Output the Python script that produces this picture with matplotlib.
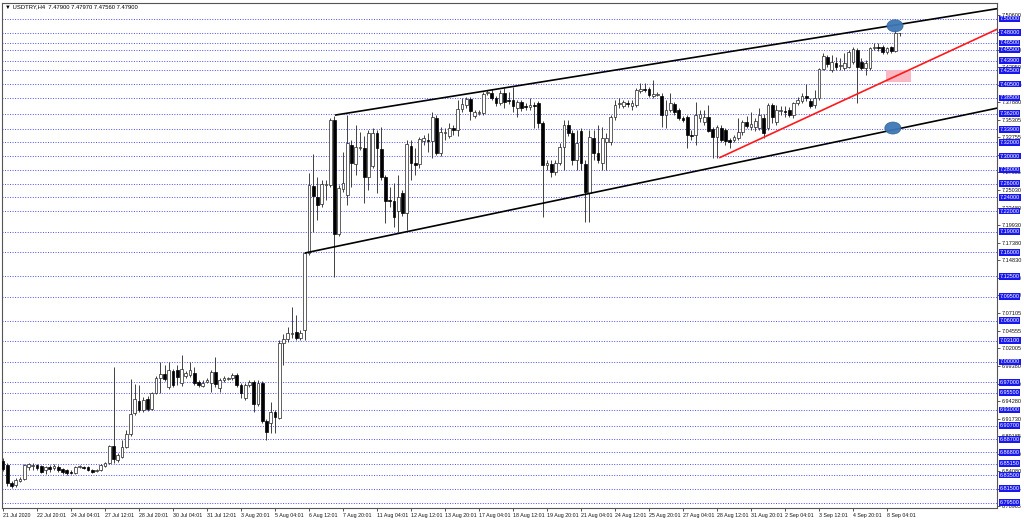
import matplotlib
matplotlib.use("Agg")
import matplotlib.pyplot as plt
from matplotlib.patches import Ellipse, Rectangle
import numpy as np

plt.rcParams["font.family"] = ["Liberation Sans", "DejaVu Sans"]

TITLE = "\u25bc USDTRY,H4  7.47900 7.47970 7.47560 7.47900"

# H4 candles (USDTRY)
opens = [
    6.856, 6.850, 6.824, 6.821, 6.826, 6.829, 6.847, 6.848, 6.850, 6.848,
    6.842, 6.847, 6.845, 6.847, 6.844, 6.842, 6.839, 6.838, 6.847, 6.847,
    6.847, 6.842, 6.841, 6.842, 6.848, 6.853, 6.877, 6.857, 6.861, 6.876,
    6.895, 6.926, 6.943, 6.930, 6.946, 6.931, 6.955, 6.977, 6.982, 6.963,
    6.987, 6.988, 6.969, 6.979, 6.981, 6.984, 6.971, 6.965, 6.971, 6.969,
    6.985, 6.962, 6.974, 6.975, 6.977, 6.981, 6.966, 6.947, 6.966, 6.971,
    6.939, 6.969, 6.914, 6.911, 6.927, 6.918, 7.028, 7.033, 7.041, 7.044,
    7.035, 7.047, 7.159, 7.256, 7.240, 7.230, 7.258, 7.258, 7.353, 7.186,
    7.252, 7.243, 7.316, 7.289, 7.312, 7.312, 7.270, 7.286, 7.334, 7.310,
    7.270, 7.236, 7.235, 7.220, 7.246, 7.217, 7.315, 7.290, 7.289, 7.322,
    7.324, 7.322, 7.356, 7.305, 7.334, 7.329, 7.341, 7.338, 7.369, 7.375,
    7.383, 7.359, 7.363, 7.363, 7.392, 7.392, 7.385, 7.378, 7.392, 7.382,
    7.382, 7.370, 7.379, 7.373, 7.372, 7.375, 7.378, 7.348, 7.287, 7.289,
    7.277, 7.290, 7.313, 7.345, 7.334, 7.294, 7.337, 7.289, 7.246, 7.326,
    7.305, 7.290, 7.321, 7.321, 7.357, 7.376, 7.373, 7.378, 7.373, 7.375,
    7.395, 7.398, 7.398, 7.388, 7.389, 7.388, 7.360, 7.367, 7.376, 7.367,
    7.356, 7.357, 7.331, 7.331, 7.356, 7.350, 7.357, 7.340, 7.328, 7.341,
    7.338, 7.324, 7.324, 7.326, 7.335, 7.350, 7.343, 7.343, 7.341, 7.356,
    7.341, 7.375, 7.350, 7.366, 7.366, 7.367, 7.360, 7.378, 7.380, 7.388,
    7.380, 7.375, 7.385, 7.427, 7.445, 7.426, 7.436, 7.431, 7.429, 7.430,
    7.437, 7.455, 7.437, 7.429, 7.429, 7.458, 7.459, 7.459, 7.452, 7.459,
    7.453, 7.479,
]
closes = [
    6.844, 6.823, 6.819, 6.828, 6.829, 6.850, 6.851, 6.850, 6.845, 6.839,
    6.847, 6.844, 6.848, 6.842, 6.839, 6.838, 6.838, 6.847, 6.848, 6.845,
    6.842, 6.839, 6.842, 6.850, 6.853, 6.877, 6.858, 6.864, 6.876, 6.895,
    6.924, 6.946, 6.930, 6.945, 6.931, 6.955, 6.977, 6.982, 6.975, 6.988,
    6.966, 6.978, 6.990, 6.984, 6.988, 6.969, 6.966, 6.969, 6.974, 6.985,
    6.968, 6.974, 6.977, 6.977, 6.981, 6.966, 6.955, 6.966, 6.971, 6.939,
    6.969, 6.914, 6.898, 6.927, 6.920, 7.028, 7.033, 7.042, 7.042, 7.035,
    7.042, 7.159, 7.258, 7.242, 7.229, 7.259, 7.259, 7.353, 7.186, 7.254,
    7.261, 7.319, 7.290, 7.313, 7.313, 7.270, 7.334, 7.334, 7.312, 7.270,
    7.235, 7.235, 7.211, 7.240, 7.217, 7.318, 7.290, 7.287, 7.325, 7.326,
    7.322, 7.357, 7.305, 7.335, 7.335, 7.341, 7.338, 7.369, 7.376, 7.383,
    7.366, 7.364, 7.364, 7.391, 7.394, 7.385, 7.378, 7.392, 7.379, 7.380,
    7.373, 7.379, 7.370, 7.372, 7.375, 7.373, 7.348, 7.287, 7.290, 7.277,
    7.290, 7.313, 7.345, 7.334, 7.294, 7.319, 7.290, 7.248, 7.328, 7.305,
    7.294, 7.326, 7.326, 7.357, 7.375, 7.378, 7.379, 7.376, 7.378, 7.396,
    7.398, 7.397, 7.389, 7.391, 7.390, 7.360, 7.367, 7.378, 7.364, 7.356,
    7.353, 7.331, 7.330, 7.360, 7.361, 7.357, 7.337, 7.328, 7.343, 7.324,
    7.322, 7.321, 7.328, 7.335, 7.350, 7.344, 7.347, 7.351, 7.360, 7.334,
    7.375, 7.357, 7.367, 7.367, 7.364, 7.360, 7.378, 7.382, 7.388, 7.385,
    7.373, 7.385, 7.427, 7.446, 7.434, 7.437, 7.430, 7.433, 7.436, 7.452,
    7.456, 7.430, 7.429, 7.436, 7.458, 7.459, 7.458, 7.452, 7.458, 7.453,
    7.479, 7.479,
]
highs = [
    6.860, 6.852, 6.826, 6.831, 6.832, 6.851, 6.853, 6.853, 6.851, 6.850,
    6.848, 6.850, 6.851, 6.850, 6.845, 6.844, 6.842, 6.848, 6.850, 6.848,
    6.848, 6.844, 6.844, 6.851, 6.854, 6.879, 6.993, 6.867, 6.886, 6.901,
    6.975, 6.968, 6.966, 6.949, 6.950, 6.956, 6.979, 7.000, 6.995, 7.000,
    6.990, 6.995, 7.010, 6.987, 7.000, 6.993, 6.974, 6.974, 6.977, 6.988,
    7.007, 6.977, 6.979, 6.978, 6.984, 6.984, 6.969, 6.969, 6.974, 6.974,
    6.974, 6.972, 6.917, 6.942, 6.930, 7.032, 7.041, 7.051, 7.080, 7.068,
    7.047, 7.160, 7.275, 7.303, 7.270, 7.265, 7.265, 7.356, 7.359, 7.258,
    7.306, 7.360, 7.324, 7.345, 7.335, 7.329, 7.338, 7.341, 7.338, 7.343,
    7.273, 7.255, 7.261, 7.273, 7.251, 7.324, 7.324, 7.312, 7.328, 7.331,
    7.334, 7.364, 7.360, 7.343, 7.341, 7.348, 7.345, 7.382, 7.385, 7.386,
    7.386, 7.367, 7.367, 7.394, 7.396, 7.398, 7.388, 7.396, 7.399, 7.394,
    7.401, 7.382, 7.382, 7.378, 7.385, 7.379, 7.380, 7.351, 7.294, 7.294,
    7.294, 7.319, 7.353, 7.353, 7.338, 7.338, 7.341, 7.294, 7.338, 7.338,
    7.345, 7.343, 7.334, 7.360, 7.382, 7.385, 7.382, 7.382, 7.382, 7.399,
    7.407, 7.407, 7.401, 7.411, 7.394, 7.392, 7.382, 7.392, 7.379, 7.370,
    7.359, 7.360, 7.338, 7.379, 7.367, 7.367, 7.375, 7.343, 7.345, 7.345,
    7.341, 7.326, 7.331, 7.356, 7.353, 7.359, 7.364, 7.356, 7.370, 7.361,
    7.378, 7.378, 7.375, 7.373, 7.373, 7.372, 7.379, 7.386, 7.392, 7.405,
    7.385, 7.396, 7.429, 7.450, 7.448, 7.448, 7.445, 7.443, 7.450, 7.455,
    7.459, 7.458, 7.443, 7.440, 7.459, 7.465, 7.465, 7.462, 7.459, 7.461,
    7.486, 7.4797,
]
lows = [
    6.841, 6.819, 6.816, 6.818, 6.825, 6.828, 6.842, 6.842, 6.842, 6.838,
    6.836, 6.839, 6.842, 6.839, 6.836, 6.835, 6.836, 6.836, 6.845, 6.844,
    6.841, 6.838, 6.839, 6.841, 6.847, 6.851, 6.853, 6.854, 6.860, 6.874,
    6.892, 6.923, 6.927, 6.927, 6.928, 6.930, 6.953, 6.955, 6.972, 6.960,
    6.963, 6.966, 6.965, 6.977, 6.978, 6.966, 6.963, 6.963, 6.969, 6.956,
    6.963, 6.956, 6.971, 6.974, 6.974, 6.963, 6.947, 6.945, 6.963, 6.927,
    6.936, 6.911, 6.886, 6.896, 6.896, 6.917, 6.996, 7.029, 7.035, 7.032,
    7.032, 7.032, 7.156, 7.189, 7.207, 7.226, 7.236, 7.255, 7.124, 7.184,
    7.248, 7.229, 7.255, 7.273, 7.309, 7.232, 7.251, 7.283, 7.246, 7.265,
    7.203, 7.226, 7.197, 7.189, 7.213, 7.192, 7.265, 7.273, 7.283, 7.316,
    7.306, 7.297, 7.302, 7.300, 7.324, 7.326, 7.331, 7.329, 7.364, 7.370,
    7.353, 7.356, 7.360, 7.360, 7.389, 7.382, 7.373, 7.375, 7.370, 7.376,
    7.364, 7.357, 7.366, 7.367, 7.367, 7.341, 7.341, 7.211, 7.280, 7.270,
    7.273, 7.287, 7.280, 7.329, 7.287, 7.280, 7.280, 7.204, 7.204, 7.294,
    7.290, 7.280, 7.280, 7.316, 7.353, 7.370, 7.370, 7.372, 7.367, 7.372,
    7.392, 7.393, 7.386, 7.385, 7.388, 7.342, 7.341, 7.364, 7.360, 7.353,
    7.350, 7.312, 7.324, 7.316, 7.350, 7.345, 7.335, 7.297, 7.297, 7.321,
    7.316, 7.312, 7.321, 7.324, 7.331, 7.341, 7.338, 7.337, 7.338, 7.326,
    7.338, 7.348, 7.345, 7.360, 7.357, 7.357, 7.356, 7.375, 7.378, 7.380,
    7.370, 7.370, 7.382, 7.426, 7.430, 7.423, 7.426, 7.426, 7.426, 7.429,
    7.434, 7.378, 7.426, 7.418, 7.426, 7.455, 7.453, 7.449, 7.449, 7.450,
    7.452, 7.4756,
]

# horizontal price levels drawn by the trader (blue boxed labels)
level_prices = [
    7.500, 7.480, 7.465, 7.455, 7.439, 7.425, 7.405, 7.385, 7.362, 7.339,
    7.320, 7.300, 7.280, 7.260, 7.240, 7.220, 7.190, 7.160, 7.125, 7.095,
    7.060, 7.031, 7.000, 6.970, 6.955, 6.930, 6.907, 6.887, 6.868, 6.8515,
    6.835, 6.815, 6.795,
]

# terminal's own price scale labels
scale_labels = [
    "7.50600", "7.48050", "7.45500", "7.42950", "7.40430", "7.37880",
    "7.35305", "7.32755", "7.30205", "7.27655", "7.25030", "7.22480",
    "7.19930", "7.17380", "7.14830", "7.12280", "7.09730", "7.07105",
    "7.04555", "7.02005", "6.99380", "6.96830", "6.94280", "6.91730",
    "6.89185", "6.86630", "6.84080", "6.81525", "6.78965",
]

time_labels = [
    "21 Jul 2020", "22 Jul 20:01", "24 Jul 04:01", "27 Jul 12:01", "28 Jul 20:01",
    "30 Jul 04:01", "31 Jul 12:01", "3 Aug 20:01", "5 Aug 04:01", "6 Aug 12:01",
    "7 Aug 20:01", "11 Aug 04:01", "12 Aug 12:01", "13 Aug 20:01", "17 Aug 04:01",
    "18 Aug 12:01", "19 Aug 20:01", "21 Aug 04:01", "24 Aug 12:01", "25 Aug 20:01",
    "27 Aug 04:01", "28 Aug 12:01", "31 Aug 20:01", "2 Sep 04:01", "3 Sep 12:01",
    "4 Sep 20:01", "8 Sep 04:01",
]
bars_per_label = 8

# trend lines: (bar, price) pairs
upper_channel = [(78.3, 7.360), (233.9, 7.515)]
lower_channel = [(71.2, 7.159), (233.9, 7.370)]
red_trend = [(168.7, 7.298), (233.9, 7.485)]
marks = [(209.9, 7.490), (209.4, 7.341)]
zone = (207.8, 213.6, 7.408, 7.4256)

o = np.array(opens)
c = np.array(closes)
h = np.array(highs)
l = np.array(lows)
idx = np.arange(len(o))

fig = plt.figure(figsize=(10.24, 5.21), dpi=100)
ax = fig.add_axes([2 / 1024, 13 / 521, 995 / 1024, 505 / 521])
ax.set_xlim(-0.24, 233.9)
ax.set_ylim(6.7870, 7.5233)

for p in level_prices:
    ax.axhline(p, color="#4b4bff", lw=0.7, ls=(0, (1, 1.6)), zorder=1)

# candles
up = c >= o
ax.vlines(idx, l, h, color="#222222", lw=0.6, zorder=3)
body_lo = np.minimum(o, c)
body_h = np.maximum(np.abs(c - o), 0.0004)
ax.bar(idx[up], body_h[up], bottom=body_lo[up], width=0.62,
       facecolor="white", edgecolor="#222222", lw=0.5, zorder=4)
ax.bar(idx[~up], body_h[~up], bottom=body_lo[~up], width=0.62,
       facecolor="black", edgecolor="black", lw=0.5, zorder=4)

# drawings
ax.add_patch(Rectangle((zone[0], zone[2]), zone[1] - zone[0], zone[3] - zone[2],
                       facecolor="#f8b9c4", edgecolor="none", zorder=2))
for line in (upper_channel, lower_channel):
    ax.plot([line[0][0], line[1][0]], [line[0][1], line[1][1]], color="black", lw=1.2, zorder=5)
ax.plot([red_trend[0][0], red_trend[1][0]], [red_trend[0][1], red_trend[1][1]],
        color="#ff1a1a", lw=1.2, zorder=5)
for mx, my in marks:
    ax.add_patch(Ellipse((mx, my), 3.8, 0.0175, facecolor="#3f78b5",
                         edgecolor="#2f5f95", lw=0.5, alpha=0.95, zorder=6))

# axes
for s in ax.spines.values():
    s.set_color("#555555")
    s.set_linewidth(0.8)
ax.yaxis.tick_right()
ax.set_yticks([float(s) for s in scale_labels])
ax.set_yticklabels(scale_labels)
ax.tick_params(axis="y", length=2, width=0.5, pad=1.2, labelsize=4.0, colors="#111111")
ax.set_xticks([k * bars_per_label for k in range(len(time_labels))])
ax.set_xticklabels(time_labels)
ax.tick_params(axis="x", length=2.5, width=0.5, pad=1, labelsize=3.8, colors="#111111")
for t in ax.get_xticklabels():
    t.set_ha("left")

for p in level_prices:
    ax.text(1.0025, p, f"{p:.5f}", transform=ax.get_yaxis_transform(), ha="left", va="center",
            fontsize=4.0, color="white", clip_on=False, zorder=10,
            bbox=dict(boxstyle="square,pad=0.15", facecolor="#1818ee", edgecolor="none"))

ax.text(0.003, 1 - 4 / 505, TITLE, transform=ax.transAxes, ha="left", va="center",
        fontsize=4.2, color="black")

fig.savefig("out.png", dpi=100)
